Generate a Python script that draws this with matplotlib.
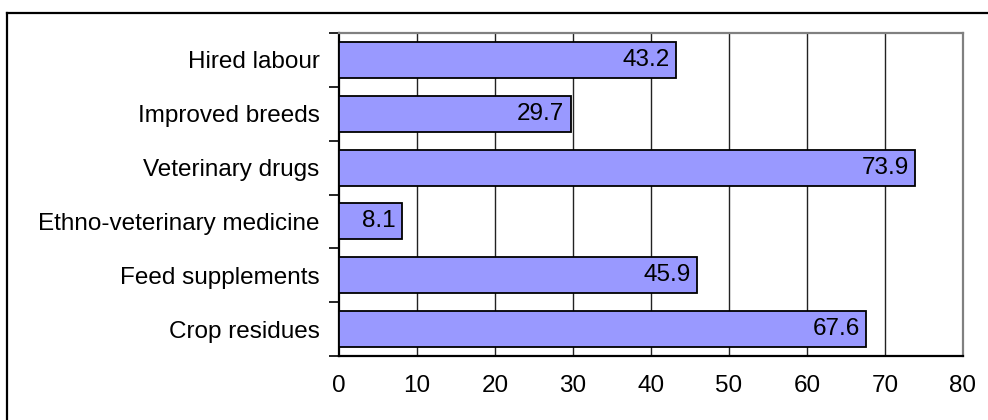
import matplotlib
matplotlib.use("Agg")
import matplotlib.pyplot as plt
from matplotlib.lines import Line2D

categories = ["Hired labour", "Improved breeds", "Veterinary drugs",
              "Ethno-veterinary medicine", "Feed supplements", "Crop residues"]
values = [43.2, 29.7, 73.9, 8.1, 45.9, 67.6]
x_ticks = [0, 10, 20, 30, 40, 50, 60, 70, 80]

plt.rcParams["font.family"] = ["Liberation Sans", "DejaVu Sans"]

W, H = 988, 420
fig = plt.figure(figsize=(W / 100, H / 100), dpi=100)
fig.patch.set_facecolor("white")

# outer chart frame (left and top edges)
fig.add_artist(Line2D([7 / W, 7 / W], [0, 1 - 13 / H], transform=fig.transFigure,
                      color="black", lw=1.6))
fig.add_artist(Line2D([7 / W, 1], [1 - 13 / H, 1 - 13 / H], transform=fig.transFigure,
                      color="black", lw=1.6))

left, right, top, bottom = 339, 963, 33, 356
ax = fig.add_axes([left / W, 1 - bottom / H, (right - left) / W, (bottom - top) / H])

n = len(categories)
ypos = list(range(n))[::-1]

ax.set_xlim(0, 80)
ax.set_ylim(-0.5, n - 0.5)

for x in x_ticks[1:-1]:
    ax.axvline(x, color="#222222", lw=1.0, zorder=1)

ax.barh(ypos, values, height=0.67, color="#9999FF", edgecolor="black",
        linewidth=1.3, zorder=3)

fs = 17.5
for y, v in zip(ypos, values):
    ax.text(v - 0.8, y, f"{v:.1f}", ha="right", va="center", fontsize=fs,
            color="black", zorder=4)

ax.set_xticks(x_ticks)
ax.set_xticklabels([str(t) for t in x_ticks], fontsize=fs)
ax.set_yticks(ypos)
ax.set_yticklabels(categories, fontsize=fs)
ax.tick_params(axis="y", length=0, pad=14)
ax.tick_params(axis="x", length=0, pad=14)

# category boundary ticks on the left axis
ax.set_yticks([i - 0.5 for i in range(n + 1)], minor=True)
ax.tick_params(axis="y", which="minor", length=7, width=1.2, color="black", direction="out")
# tick marks below the value axis
ax.set_xticks(x_ticks, minor=True)
ax.tick_params(axis="x", which="minor", length=7, width=1.2, color="black", direction="out")

for side in ["top", "right"]:
    ax.spines[side].set_color("#808080")
    ax.spines[side].set_linewidth(1.6)
ax.spines["left"].set_color("black")
ax.spines["left"].set_linewidth(1.6)
ax.spines["bottom"].set_color("black")
ax.spines["bottom"].set_linewidth(1.6)

fig.savefig("out.png", dpi=100, facecolor="white")
